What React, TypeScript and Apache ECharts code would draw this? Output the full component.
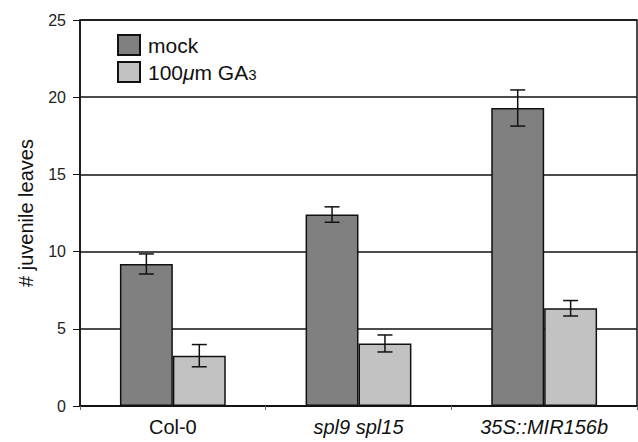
import React, { useEffect, useRef } from "react";
import * as echarts from "echarts";

const categories = ["Col-0", "spl9 spl15", "35S::MIR156b"];
const mockValues = [9.2, 12.4, 19.3];
const mockErrors = [0.65, 0.5, 1.17];
const gaValues = [3.26, 4.05, 6.33];
const gaErrors = [0.72, 0.55, 0.5];
const yTicks = [0, 5, 10, 15, 20, 25];

const CAT_GAP = 0.43;

export default function App() {
  const ref = useRef<HTMLDivElement>(null);
  useEffect(() => {
    if (!ref.current) return;
    const chart = echarts.init(ref.current, null, { renderer: "svg" });
    const errData: number[][] = [];
    mockValues.forEach((v, i) => errData.push([i, v, mockErrors[i], 0]));
    gaValues.forEach((v, i) => errData.push([i, v, gaErrors[i], 1]));
    const font = "'Liberation Sans', Arial, sans-serif";
    chart.setOption({
      animation: false,
      textStyle: { fontFamily: font },
      grid: {
        left: 80,
        right: 1,
        top: 20,
        bottom: 36,
        show: true,
        borderColor: "#111",
        borderWidth: 1.5,
        backgroundColor: "transparent",
      },
      legend: {
        orient: "vertical",
        left: 117,
        top: 34,
        padding: 0,
        itemWidth: 22,
        itemHeight: 20,
        itemGap: 3,
        icon: "rect",
        data: ["mock", "100μm GA3"],
        formatter: (name: string) =>
          name === "mock" ? "{a|mock}" : "{a|100}{i|μ}{a|m GA}{s|3}",
        textStyle: {
          padding: [0, 0, 0, 3],
          lineHeight: 20,
          rich: {
            a: { fontSize: 21, lineHeight: 20, color: "#111", fontFamily: font },
            i: { fontSize: 21, lineHeight: 20, color: "#111", fontStyle: "italic", fontFamily: font },
            s: { fontSize: 15, lineHeight: 12, padding: [8, 0, 0, 0], color: "#111", fontFamily: font, verticalAlign: "bottom" },
          },
        },
      },
      xAxis: {
        type: "category",
        data: categories,
        axisLine: { lineStyle: { color: "#111", width: 1.5 } },
        axisTick: { show: true, length: 4, lineStyle: { color: "#666" } },
        axisLabel: {
          margin: 11,
          formatter: (v: string) => (v === "Col-0" ? "{n|" + v + "}" : "{it|" + v + "}"),
          rich: {
            n: { fontSize: 20, color: "#111", fontFamily: font },
            it: { fontSize: 20, color: "#111", fontStyle: "italic", fontFamily: font },
          },
        },
      },
      yAxis: {
        type: "value",
        min: yTicks[0],
        max: yTicks[yTicks.length - 1],
        interval: 5,
        name: "# juvenile leaves",
        nameLocation: "middle",
        nameGap: 44,
        nameTextStyle: { fontSize: 20, color: "#111", fontFamily: font },
        axisLine: { show: true, lineStyle: { color: "#111", width: 1.5 } },
        axisTick: { show: true, length: 7, lineStyle: { color: "#111" } },
        axisLabel: { fontSize: 16, color: "#222", margin: 14 },
        splitLine: { show: true, lineStyle: { color: "#111", width: 1.5 } },
      },
      series: [
        {
          name: "mock",
          type: "bar",
          data: mockValues,
          barGap: "0%",
          barCategoryGap: CAT_GAP * 100 + "%",
          itemStyle: { color: "#808080", borderColor: "#111", borderWidth: 1.5 },
          z: 3,
        },
        {
          name: "100μm GA3",
          type: "bar",
          data: gaValues,
          itemStyle: { color: "#c2c2c2", borderColor: "#111", borderWidth: 1.5 },
          z: 3,
        },
        {
          type: "custom",
          z: 5,
          data: errData,
          renderItem: (params: any, api: any) => {
            const ci = api.value(0);
            const v = api.value(1);
            const e = api.value(2);
            const s = api.value(3);
            const band = api.size([1, 0])[0];
            const bw = (band * (1 - CAT_GAP)) / 2;
            const c = api.coord([ci, v]);
            const x = c[0] + (s === 0 ? -bw / 2 : bw / 2);
            const top = api.coord([ci, v + e])[1];
            const bot = api.coord([ci, v - e])[1];
            const cap = 7.5;
            const st = { stroke: "#111", lineWidth: 1.5 };
            return {
              type: "group",
              children: [
                { type: "line", shape: { x1: x, y1: top, x2: x, y2: bot }, style: st },
                { type: "line", shape: { x1: x - cap, y1: top, x2: x + cap, y2: top }, style: st },
                { type: "line", shape: { x1: x - cap, y1: bot, x2: x + cap, y2: bot }, style: st },
              ],
            };
          },
        },
      ],
    });
    return () => chart.dispose();
  }, []);
  return (
    <div
      ref={ref}
      style={{ position: "fixed", left: 0, top: 0, width: 638, height: 442, background: "#fff" }}
    />
  );
}
